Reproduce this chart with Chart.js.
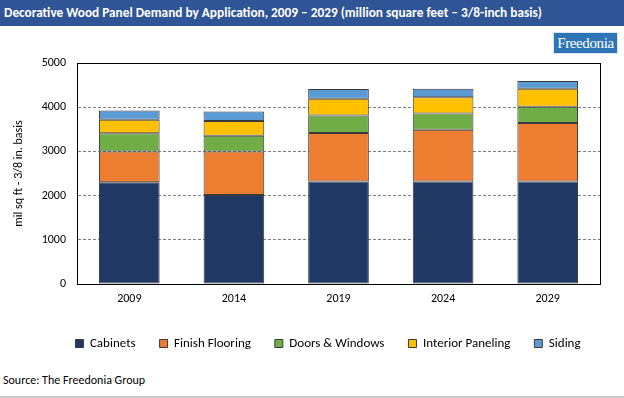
<!DOCTYPE html>
<html>
<head>
<meta charset="utf-8">
<script src="https://cdn.jsdelivr.net/npm/chart.js@4.4.1/dist/chart.umd.min.js"></script>
<style>
  body { margin: 0; width: 624px; height: 398px; background: #fff; position: relative; overflow: hidden; font-family: Carlito, Lato, sans-serif; }
  .title { position: absolute; left: 0; top: 0; width: 624px; height: 26px; background: #2F5597; color: #fff; font-weight: bold; font-size: 13.3px; line-height: 26px; padding-left: 4px; box-sizing: border-box; white-space: nowrap; }
  .logo { position: absolute; left: 554px; top: 33px; width: 63px; height: 20px; background: #2E75B6; color: #fff; font-family: "Liberation Serif", serif; font-size: 15px; line-height: 20px; text-align: center; letter-spacing: -0.4px; box-shadow: 0 0 0 1px #dbe6f3; }
  .chart-box { position: absolute; left: 0; top: 26px; width: 624px; height: 340px; }
  .source { position: absolute; left: 3px; top: 373px; font-size: 12px; color: #000; }
  .rule { position: absolute; left: 0; top: 396px; width: 624px; height: 2px; background: #c8c8c8; }
</style>
</head>
<body>
<div class="title">Decorative Wood Panel Demand by Application, 2009 – 2029 (million square feet – 3/8-inch basis)</div>
<div class="logo">Freedonia</div>
<div class="chart-box"><canvas id="chart" width="624" height="340"></canvas></div>
<div class="source">Source: The Freedonia Group</div>
<div class="rule"></div>
<script>
// Data
const years = ['2009', '2014', '2019', '2024', '2029']
const cabinets = [2300, 2015, 2318, 2318, 2318]
const finishFlooring = [700, 985, 1098, 1174, 1326]
const doorsWindows = [410, 356, 395, 364, 364]
const interiorPaneling = [305, 333, 378, 371, 409]
const siding = [212, 213, 220, 190, 174]

const font = 'Carlito, Lato, sans-serif'

// Full black frame around the plot area
const frame = {
  id: 'frame',
  afterDraw(chart) {
    const { ctx, chartArea: a } = chart
    ctx.save()
    ctx.strokeStyle = '#000'
    ctx.lineWidth = 1
    ctx.strokeRect(Math.round(a.left) + 0.5, Math.round(a.top) + 0.5, Math.round(a.right - a.left), Math.round(a.bottom - a.top))
    ctx.restore()
  }
}

// Legend in the original sits a little right of the canvas centre
const legendShift = {
  id: 'legendShift',
  afterLayout(chart) {
    chart.legend.left += 28
    chart.legend.right += 28
  }
}

function series(label, data, color) {
  return { label, data, backgroundColor: color, borderColor: '#3a3a3a', borderWidth: 1, borderSkipped: false }
}

new Chart(document.getElementById('chart').getContext('2d'), {
  type: 'bar',
  data: {
    labels: years,
    datasets: [
      series('Cabinets', cabinets, '#203864'),
      series('Finish Flooring', finishFlooring, '#ED7D31'),
      series('Doors & Windows', doorsWindows, '#70AD47'),
      series('Interior Paneling', interiorPaneling, '#FFC000'),
      series('Siding', siding, '#5B9BD5')
    ]
  },
  options: {
    responsive: false,
    animation: false,
    layout: { padding: { top: 37, right: 24, left: 0, bottom: 6 } },
    datasets: { bar: { categoryPercentage: 1, barPercentage: 0.58 } },
    scales: {
      x: {
        stacked: true,
        grid: { display: false },
        border: { color: '#000' },
        ticks: { color: '#000', font: { family: font, size: 12 }, padding: 0 },
        afterFit(s) { s.height = 29 }
      },
      y: {
        stacked: true,
        min: 0,
        max: 5000,
        ticks: { stepSize: 1000, color: '#000', font: { family: font, size: 12 }, padding: 11, callback: (v) => String(v) },
        grid: { color: '#7f7f7f', drawTicks: false },
        border: { color: '#000', dash: [3, 2] },
        title: { display: true, text: 'mil sq ft - 3/8 in. basis', color: '#000', font: { family: font, size: 12 }, padding: { top: 12, bottom: 0 } },
        afterFit(s) { s.width = 77 }
      }
    },
    plugins: {
      legend: {
        position: 'bottom',
        labels: { boxWidth: 8, boxHeight: 8, padding: 24, color: '#000', font: { family: font, size: 13 } }
      },
      tooltip: { enabled: false }
    }
  },
  plugins: [frame, legendShift]
})
</script>
</body>
</html>
